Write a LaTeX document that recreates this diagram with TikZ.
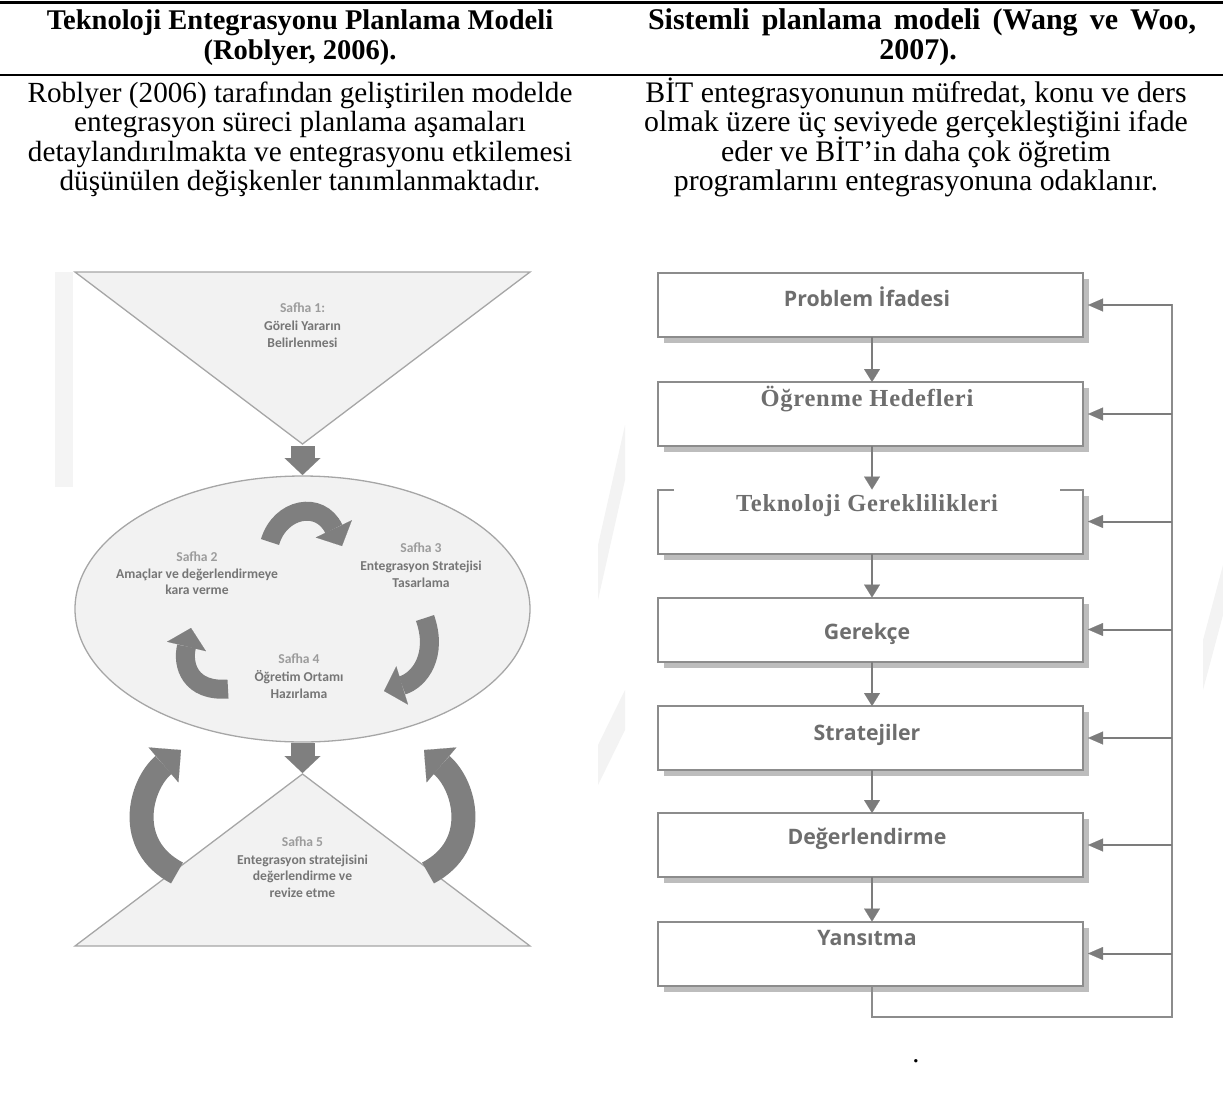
\documentclass[tikz,border=0pt]{standalone}
\usepackage{fontspec}
\setmainfont{Liberation Serif}
\newfontfamily\phasefont{Carlito}
\newfontfamily\stepfont{Open Sans}
\usetikzlibrary{arrows.meta,shapes.geometric,shadows}
\definecolor{shapefill}{HTML}{F2F2F2}
\definecolor{shapeline}{HTML}{A6A6A6}
\definecolor{ribbon}{HTML}{7F7F7F}
\definecolor{phaselight}{HTML}{9C9C9C}
\definecolor{phasedark}{HTML}{767676}
\definecolor{boxline}{HTML}{8C8C8C}
\definecolor{boxshade}{HTML}{BDBDBD}
\definecolor{flowline}{HTML}{7C7C7C}
\definecolor{labelgray}{HTML}{6E6E6E}
\definecolor{faint}{HTML}{F4F4F4}
\definecolor{ghost}{HTML}{F3F3F3}
\begin{document}
\begin{tikzpicture}[x=1pt,y=-1pt,
  headleft/.style={anchor=base, font=\fontsize{28.5}{32}\selectfont\bfseries},
  headright/.style={anchor=base, font=\fontsize{30}{32}\selectfont\bfseries},
  bodyleft/.style={anchor=base, font=\fontsize{29.2}{32}\selectfont},
  bodyright/.style={anchor=base, font=\fontsize{29.8}{32}\selectfont},
  phasehead/.style={anchor=base, inner sep=0pt, text=phaselight, font=\phasefont\bfseries\fontsize{13.6}{16}\selectfont},
  phaseline/.style={anchor=base, inner sep=0pt, text=phasedark, font=\phasefont\bfseries\fontsize{13.6}{16}\selectfont},
  blockarrow/.style={draw=ribbon, line width=24pt, -{Triangle[length=17pt,width=36pt,line width=0.1pt]}},
  innerribbon/.style={draw=ribbon, line width=19pt, -{Triangle[length=19pt,width=40pt,line width=0.1pt]}},
  outerribbon/.style={draw=ribbon, line width=24pt, -{Triangle[length=23pt,width=46pt,line width=0.1pt]}},
  stepbox/.style={rectangle, draw=boxline, line width=2pt, fill=white, minimum width=425pt, minimum height=64pt, inner sep=0pt, outer sep=0pt,
    drop shadow={shadow xshift=6pt, shadow yshift=-6pt, fill=boxshade, opacity=1}},
  sanslabel/.style={anchor=base, text=labelgray, font=\stepfont\bfseries\fontsize{21.3}{24}\selectfont},
  seriflabel/.style={anchor=base, text=labelgray, font=\bfseries\fontsize{24.5}{28}\selectfont\addfontfeatures{LetterSpace=3}},
  flow/.style={draw=flowline, line width=2pt, -{Triangle[length=13pt,width=16pt,line width=0.1pt]}},
  backflow/.style={draw=flowline, line width=2pt, -{Triangle[length=15pt,width=13pt,line width=0.1pt]}, shorten >=5pt},
  rail/.style={draw=boxline, line width=2pt}
]
\useasboundingbox (0,0) rectangle (1223,1095);

% ---------- table header ----------
\fill (0,1) rectangle (1223,4);
\node[headleft] (hl1) at (300,29) {Teknoloji Entegrasyonu Planlama Modeli};
\node[headleft] (hl2) at (300,59) {(Roblyer, 2006).};
\node[headright] (hr1) at (922,29) {\makebox[548pt][s]{Sistemli planlama modeli (Wang ve Woo,}};
\node[headright] (hr2) at (918,59) {2007).};
\fill (0,74) rectangle (1223,76);

% ---------- descriptions ----------
\node[bodyleft] (dl1) at (300,102) {Roblyer (2006) tarafından geliştirilen modelde};
\node[bodyleft] (dl2) at (300,131.5) {entegrasyon süreci planlama aşamaları};
\node[bodyleft] (dl3) at (300,161) {detaylandırılmakta ve entegrasyonu etkilemesi};
\node[bodyleft] (dl4) at (300,190.5) {düşünülen değişkenler tanımlanmaktadır.};
\node[bodyright] (dr1) at (916,102) {BİT entegrasyonunun müfredat, konu ve ders};
\node[bodyright] (dr2) at (916,131.5) {olmak üzere üç seviyede gerçekleştiğini ifade};
\node[bodyright] (dr3) at (916,161) {eder ve BİT’in daha çok öğretim};
\node[bodyright] (dr4) at (916,190.5) {programlarını entegrasyonuna odaklanır.};

% faint marks of the scanned page
\fill[faint] (55,272) rectangle (73,487);
\fill[ghost] (598,600) -- (598,545) -- (625,425) -- (625,480) -- cycle;
\fill[ghost] (598,785) -- (598,745) -- (625,690) -- (625,730) -- cycle;
\fill[ghost] (1203,690) -- (1203,640) -- (1223,565) -- (1223,615) -- cycle;

% ---------- left model: phases ----------
% phase 1: inverted triangle
\coordinate (p1apex) at (302.5,444);
\filldraw[fill=shapefill, draw=shapeline, line width=1.3pt] (75,272) -- (530,272) -- (p1apex) -- cycle;
\node[phasehead] (s1a) at (302.5,312) {Safha 1:};
\node[phaseline] (s1b) at (302.5,330) {Göreli Yararın};
\node[phaseline] (s1c) at (302.5,347) {Belirlenmesi};

% phases 2-4: ellipse
\node[ellipse, draw=shapeline, fill=shapefill, line width=1.3pt, minimum width=455pt, minimum height=266pt, inner sep=0pt, outer sep=0pt] (cyc) at (302.5,609) {};
\draw[blockarrow] ([yshift=-2pt]p1apex) -- ([yshift=1pt]cyc.north);

\node[phasehead] (s2a) at (197,561) {Safha 2};
\node[phaseline] (s2b) at (197,578) {Amaçlar ve değerlendirmeye};
\node[phaseline] (s2c) at (197,594) {kara verme};
\node[phasehead] (s3a) at (421,552) {Safha 3};
\node[phaseline] (s3b) at (421,570) {Entegrasyon Stratejisi};
\node[phaseline] (s3c) at (421,587) {Tasarlama};
\node[phasehead] (s4a) at (299,663) {Safha 4};
\node[phaseline] (s4b) at (299,681) {Öğretim Ortamı};
\node[phaseline] (s4c) at (299,698) {Hazırlama};

% cycle arrows inside the ellipse
\draw[innerribbon] (270,542) .. controls (280,508) and (320,500) .. (342,546);
\draw[innerribbon] (425,618) .. controls (438,655) and (420,680) .. (384,691);
\draw[innerribbon] (228,689) .. controls (190,692) and (182,665) .. (191,628);

% phase 5: triangle
\coordinate (p5apex) at (302.5,774);
\draw[blockarrow] ([yshift=-1pt]cyc.south) -- ([yshift=1pt]p5apex);
\filldraw[fill=shapefill, draw=shapeline, line width=1.3pt] (p5apex) -- (530,946) -- (75,946) -- cycle;
\node[phasehead] (s5a) at (302.5,846) {Safha 5};
\node[phaseline] (s5b) at (302.5,864) {Entegrasyon stratejisini};
\node[phaseline] (s5c) at (302.5,880) {değerlendirme ve};
\node[phaseline] (s5d) at (302.5,897) {revize etme};

% revision loops back to the cycle
\draw[outerribbon] (177,873) .. controls (124,845) and (140,785) .. (181,750);
\draw[outerribbon] (428,873) .. controls (481,845) and (465,785) .. (424,750);

% ---------- right model: systematic planning ----------
\node[stepbox] (b1) at (870.5,305) {};
\node[stepbox] (b2) at (870.5,414) {};
\node[stepbox, draw=none] (b3) at (870.5,521.5) {};
\draw[boxline, line width=2pt] ([xshift=16pt]b3.north west) -- (b3.north west) -- (b3.south west) -- (b3.south east) -- (b3.north east) -- ([xshift=-23pt]b3.north east);
\node[stepbox] (b4) at (870.5,629.5) {};
\node[stepbox] (b5) at (870.5,738) {};
\node[stepbox] (b6) at (870.5,845) {};
\node[stepbox] (b7) at (870.5,953.5) {};

\node[sanslabel] (t1) at (867,306) {Problem İfadesi};
\node[seriflabel] (t2) at (867,406) {Öğrenme Hedefleri};
\node[seriflabel] (t3) at (867,511) {Teknoloji Gereklilikleri};
\node[sanslabel] (t4) at (867,639) {Gerekçe};
\node[sanslabel] (t5) at (867,740) {Stratejiler};
\node[sanslabel] (t6) at (867,844) {Değerlendirme};
\node[sanslabel] (t7) at (867,945) {Yansıtma};

\foreach \a/\b in {b1/b2,b2/b3,b3/b4,b4/b5,b5/b6,b6/b7}
  \draw[flow] ([xshift=1.5pt]\a.south) -- ([xshift=1.5pt]\b.north);

\coordinate (loop) at (1172,1017);
\coordinate (railtop) at (1172,304);
\draw[rail] ([xshift=1.5pt]b7.south) |- (loop) -- (railtop);
\foreach \n in {b1,b2,b3,b4,b5,b6,b7}
  \draw[backflow] (\n.east -| loop) -- (\n.east);

\node[anchor=base, font=\fontsize{28.5}{32}\selectfont] (dot) at (916,1062) {.};
\end{tikzpicture}
\end{document}
